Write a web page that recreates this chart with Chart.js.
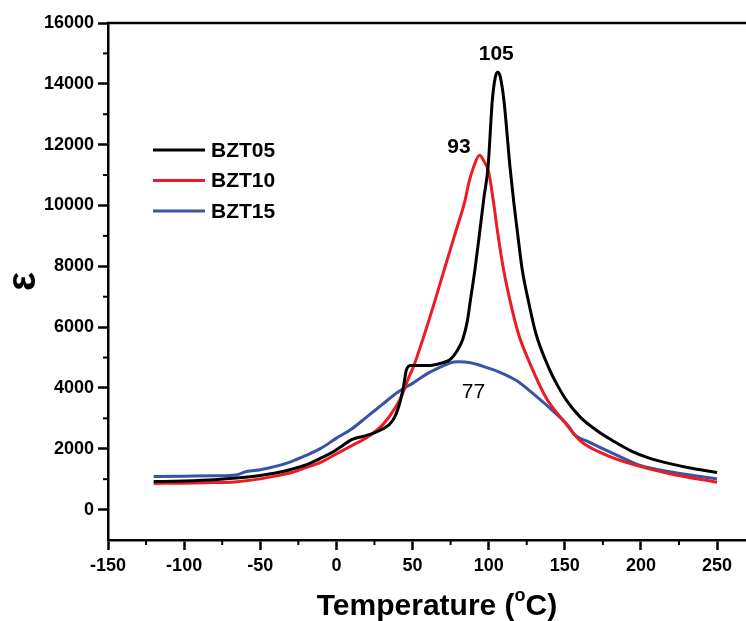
<!DOCTYPE html>
<html>
<head>
<meta charset="utf-8">
<script src="https://cdn.jsdelivr.net/npm/chart.js@4/dist/chart.umd.min.js"></script>
<style>
  body { margin: 0; background: #fff; }
  canvas { display: block; }
</style>
</head>
<body>
<canvas id="chart" width="746" height="621"></canvas>
<script>
// temperature (°C) / permittivity for each sample
const bzt05T = [-120, -100, -80, -60, -50, -40, -30, -20, -10, -2, 4, 10, 20, 30, 37, 41, 44, 46, 49, 55, 63, 70, 75, 79, 83, 86, 88, 91, 94, 97, 99.6, 102.4, 104.5, 106, 107.5, 110, 114, 116.5, 119, 122, 126, 131, 140, 145, 151, 160, 171, 182, 193, 205, 219, 235, 250];
const bzt05E = [920, 940, 980, 1060, 1120, 1200, 1320, 1470, 1700, 1900, 2100, 2300, 2440, 2640, 2930, 3400, 4020, 4600, 4740, 4740, 4750, 4830, 4950, 5200, 5600, 6200, 6880, 7900, 9080, 10300, 11270, 13460, 14250, 14380, 14250, 13460, 11270, 10100, 9080, 7900, 6880, 5790, 4600, 4100, 3600, 3050, 2600, 2250, 1940, 1700, 1510, 1340, 1220];

const bzt10T = [-120, -100, -80, -67, -50, -40, -30, -20, -10, -2, 10, 20, 30, 36, 42, 48, 50.4, 58, 64.8, 71.3, 78, 84.5, 87, 90, 94, 97, 100, 103, 106, 109.5, 114, 119.5, 128, 138, 149, 160, 175, 193, 219, 250];
const bzt10E = [860, 870, 890, 910, 1010, 1100, 1210, 1380, 1560, 1780, 2100, 2370, 2770, 3150, 3650, 4400, 4670, 5790, 6880, 7970, 9080, 10170, 10750, 11250, 11650, 11450, 11100, 10170, 9080, 7970, 6880, 5790, 4700, 3650, 2930, 2270, 1840, 1510, 1180, 900];

const bzt15T = [-120, -100, -80, -66, -59, -50, -40, -30, -20, -10, 0, 10, 20, 30, 40, 50, 60, 68, 75, 80, 88, 100, 107, 118, 129, 144, 153, 156, 166, 182, 199, 221, 250];
const bzt15E = [1090, 1100, 1110, 1140, 1250, 1310, 1420, 1570, 1780, 2020, 2350, 2650, 3050, 3450, 3850, 4150, 4480, 4680, 4830, 4860, 4830, 4650, 4520, 4250, 3820, 3160, 2710, 2480, 2220, 1840, 1460, 1230, 1010];

const seriesNames = ['BZT05', 'BZT10', 'BZT15'];
const seriesColors = ['#000000', '#ed1c24', '#3a53a4'];

const xTicks = [-150, -100, -50, 0, 50, 100, 150, 200, 250];
const yTicks = [0, 2000, 4000, 6000, 8000, 10000, 12000, 14000, 16000];
const xMinor = [-125, -75, -25, 25, 75, 125, 175, 225];
const yMinor = [1000, 3000, 5000, 7000, 9000, 11000, 13000, 15000];

// peak labels
const peakText = ['105', '93', '77'];
const peakT = [105, 80.5, 90];
const peakE = [14970, 11920, 3870];
const peakBold = [true, true, false];

const FONT = "'Liberation Sans', Arial, Helvetica, sans-serif";

function pts(xs, ys) {
  return xs.map((x, i) => ({ x: x, y: ys[i] }));
}

const extras = {
  id: 'extras',
  afterDraw(chart) {
    const ctx = chart.ctx;
    const a = chart.chartArea;
    const xs = chart.scales.x, ys = chart.scales.y;
    ctx.save();
    ctx.strokeStyle = '#000';
    ctx.lineWidth = 2.5;
    // top frame line
    ctx.beginPath();
    ctx.moveTo(a.left - 1, a.top);
    ctx.lineTo(a.right, a.top);
    ctx.stroke();
    // minor ticks
    ctx.lineWidth = 2;
    yMinor.forEach(v => {
      const y = ys.getPixelForValue(v);
      ctx.beginPath(); ctx.moveTo(a.left - 5, y); ctx.lineTo(a.left, y); ctx.stroke();
    });
    xMinor.forEach(v => {
      const x = xs.getPixelForValue(v);
      ctx.beginPath(); ctx.moveTo(x, a.bottom); ctx.lineTo(x, a.bottom + 5); ctx.stroke();
    });
    // legend
    chart.data.datasets.forEach((ds, i) => {
      const y = 150 + i * 30.5;
      ctx.strokeStyle = ds.borderColor;
      ctx.lineWidth = 3;
      ctx.beginPath(); ctx.moveTo(153, y); ctx.lineTo(205, y); ctx.stroke();
      ctx.fillStyle = '#000';
      ctx.font = 'bold 21px ' + FONT;
      ctx.textAlign = 'left';
      ctx.textBaseline = 'middle';
      ctx.fillText(ds.label, 211, y + 1);
    });
    // peak labels
    ctx.textAlign = 'center';
    ctx.textBaseline = 'middle';
    peakText.forEach((t, i) => {
      ctx.font = (peakBold[i] ? 'bold ' : '') + '21px ' + FONT;
      ctx.fillText(t, xs.getPixelForValue(peakT[i]), ys.getPixelForValue(peakE[i]));
    });
    // x axis title with superscript o
    ctx.textAlign = 'left';
    ctx.textBaseline = 'alphabetic';
    ctx.font = 'bold 30px ' + FONT;
    const p1 = 'Temperature (', p3 = 'C)';
    const w1 = ctx.measureText(p1).width, w3 = ctx.measureText(p3).width;
    ctx.font = 'bold 18px ' + FONT;
    const w2 = ctx.measureText('o').width;
    let x0 = 437 - (w1 + w2 + w3) / 2;
    ctx.font = 'bold 30px ' + FONT;
    ctx.fillText(p1, x0, 615);
    ctx.font = 'bold 18px ' + FONT;
    ctx.fillText('o', x0 + w1, 601);
    ctx.font = 'bold 30px ' + FONT;
    ctx.fillText(p3, x0 + w1 + w2, 615);
    ctx.restore();
  }
};

new Chart(document.getElementById('chart'), {
  type: 'line',
  data: {
    datasets: [
      { label: seriesNames[0], data: pts(bzt05T, bzt05E), borderColor: seriesColors[0] },
      { label: seriesNames[1], data: pts(bzt10T, bzt10E), borderColor: seriesColors[1] },
      { label: seriesNames[2], data: pts(bzt15T, bzt15E), borderColor: seriesColors[2] }
    ].map(d => Object.assign(d, { borderWidth: 3, pointRadius: 0, cubicInterpolationMode: 'monotone', fill: false }))
  },
  options: {
    responsive: false,
    devicePixelRatio: 1,
    animation: false,
    layout: { padding: { top: 23, right: 0, left: 0, bottom: 0 } },
    plugins: { legend: { display: false }, tooltip: { enabled: false } },
    scales: {
      x: {
        type: 'linear',
        min: -150,
        max: 269,
        afterBuildTicks: s => { s.ticks = xTicks.map(v => ({ value: v })); },
        afterFit: s => { s.height = 81; },
        ticks: {
          autoSkip: false, maxRotation: 0, padding: 5, color: '#000',
          font: { family: FONT, size: 18, weight: 'bold' },
          callback: v => String(v)
        },
        grid: { drawOnChartArea: false, drawTicks: true, tickLength: 10, tickWidth: 2.5, tickColor: '#000' },
        border: { display: true, color: '#000', width: 2.5 },
        title: { display: false }
      },
      y: {
        min: -1000,
        max: 16000,
        afterBuildTicks: s => { s.ticks = yTicks.map(v => ({ value: v })); },
        afterFit: s => { s.width = 108; },
        ticks: {
          autoSkip: false, padding: 4, color: '#000',
          font: { family: FONT, size: 18, weight: 'bold' },
          callback: v => String(v)
        },
        grid: { drawOnChartArea: false, drawTicks: true, tickLength: 10, tickWidth: 2.5, tickColor: '#000' },
        border: { display: true, color: '#000', width: 2.5 },
        title: {
          display: true, text: 'ε', color: '#000',
          font: { family: FONT, size: 40, weight: 'bold' },
          padding: { top: 0, bottom: 0 }
        }
      }
    }
  },
  plugins: [extras]
});
</script>
</body>
</html>
